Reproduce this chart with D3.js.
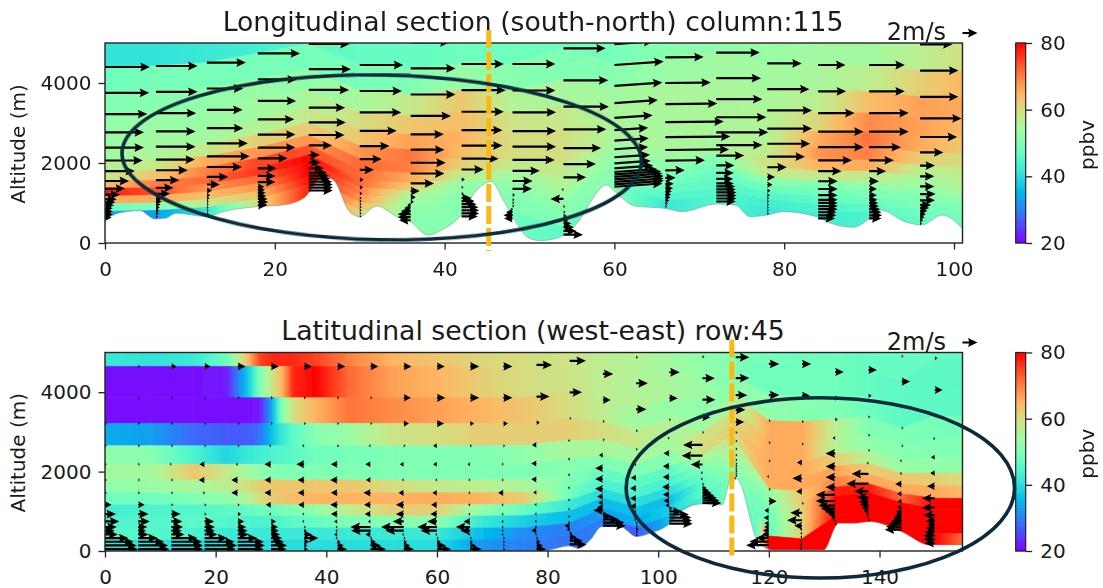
<!DOCTYPE html>
<html><head><meta charset="utf-8">
<script src="https://cdn.jsdelivr.net/npm/d3@7/dist/d3.min.js"></script>
<style>html,body{margin:0;background:#fff}text{font-family:"DejaVu Sans";fill:#1a1a1a}</style>
</head><body><svg id="c" width="1103" height="588"></svg>
<script>
// level fractions between ground and reference height
const arrowLevels=[1.17,1,.83,.69,.57,.47,.385,.315,.25,.2,.16,.13,.11,.09,.07,.05,.03,.01];
const bandEdgesTop=[1.3,1,.83,.69,.57,.47,.385,.315,.25,.2,.15,.1,.05,0];
const bandEdgesBot=[1.3,1,.83,.69,.57,.47,.385,.315,.25,.19,.125,.06,0];

// ---- longitudinal section
const topCols=[0,6,12,18,24,30,36,42,48,54,60,66,72,78,84,90,96,102];
const topGround=[600,620,700,910,1275,625,530,625,575,160,1375,875,1000,700,575,575,450,350];
const topRef=[4400,4425,4510,4740,4975,4450,4365,4475,4475,4867,4450,4640,4760,4490,4450,4450,4310,4300];
const topTilt=[0,0,0,0,0,0,0,0,0,0,.07,.01,0,0,0,0,0];
const topTerrainX=[0,1.8,4.1,5.9,7.1,8.4,12,13.9,17.9,21,23.4,25.7,26.9,28.8,30,32,34.4,36,38,40,41.8,43.8,45.5,46.9,48.5,49.7,51.2,53.2,55.9,57.6,59,60.7,62.4,65.9,68,72,74.2,76,78,79.8,83.8,85.5,88.1,90.1,91.4,94.2,96.2,98.6,101];
const topTerrainZ=[592,758,808,600,617,742,658,783,908,950,1117,1658,1575,783,658,925,658,533,200,367,658,1325,1533,1075,492,158,60,117,575,1158,1450,1158,925,867,783,975,950,658,700,783,658,492,392,617,825,533,450,700,367];
const topField=[
[41,48,50,52,53,54,56,58,64,78,66,48,34],
[41,49,51,53,54,55,58,63,70,74,66,50,33],
[42,49,52,53,54,58,66,70,72,68,64,58,42],
[43,49,53,54,56,62,68,75,76,72,68,64,60],
[46,49,52,55,58,62,68,74,80,80,80,79,78],
[47,49,55,60,63,68,72,72,72,70,68,64,60],
[47,50,58,63,67,71,70,66,62,56,53,52,51],
[48,53,63,64,65,64,62,58,53,52,51,51,51],
[48,51,56,59,60,60,58,54,52,51,50,50,48],
[48,50,55,58,60,60,58,56,54,52,51,50,46],
[49,51,54,55,55,55,54,53,52,51,51,51,50],
[51,53,55,55,55,55,54,52,50,49,47,45,42],
[52,54,55,55,55,55,54,50,48,47,46,45,45],
[53,54,55,56,56,57,59,58,52,48,45,43,42],
[54,55,57,61,66,68,65,58,50,48,46,44,43],
[54,57,64,69,71,70,66,58,53,50,48,46,44],
[57,62,67,67,66,62,57,54,52,50,49,48,47],
[60,65,66,64,62,60,58,57,55,52,50,49,48]];
const topU=[
[6,6.9,6.8,6.5,6,6,5.8,4.6,3.7,3.1,2.3,1.8,1.6,1.4,1.2,1.2,1.2,1],
[6,6.4,6.4,6.2,6.1,6.1,6,4.9,3.6,2.7,2.2,1,.9,.7,.6,.5,.4,.3],
[6,6,5.6,5.5,5.6,6.3,6.6,5.4,3.3,2,.8,.5,.4,.3,.3,.2,.2,.1],
[6,6.5,6,5.9,5.6,5.8,5.8,4.6,2.9,2.7,2.7,1,1.1,1.2,1.3,1.5,1.6,1.5],
[6,6.3,6.5,6.2,5.6,5.7,5.5,3.6,1.7,1.8,2.3,2.8,3.1,3.3,3.6,3.7,3.7,3.7],
[6,6.7,6.5,6.4,5.7,4.6,3.4,2.2,.6,.5,.4,.3,.3,.3,.3,.3,.3,.2],
[6,6.9,6.9,6.2,5.1,5.2,5.4,5.2,3.6,1.4,.8,.5,-.5,-1,-1.5,-2,-2,-1.8],
[6,6.5,6.8,6.5,6.3,6.3,5.7,3.4,.5,.3,.3,1.5,2,2.3,2.6,2.7,2.7,2.5],
[6,6.6,6.6,6.7,6.7,6.7,6.5,4.2,3.1,3,.4,.3,.3,.2,-.3,-1,-1.4,-1.3],
[6,6.5,6.9,7,6.6,5.8,5,3.5,-.3,-2,.3,.3,.5,.8,1.2,1.6,2,3],
[6,7.6,7.4,6.7,5.9,5.2,5.3,5.2,5.5,5.6,6,6.6,7.2,7.4,7.6,7.6,7.6,7.4],
[6,5.9,7,8,9,10,9.8,6.1,3,1.6,1.3,1.2,1,.9,.8,.6,.4,.3],
[6,6.7,6.9,7.1,7.7,8,7.1,4.3,2.8,2.7,2.6,2.7,2.9,3,3.1,3.1,3.1,3],
[6,5.3,6.5,6.9,6.9,6.6,5.8,3,1.2,.8,.5,.4,.3,.3,.2,.2,.2,.1],
[5,4.2,4.3,5.6,7,7,5.2,3.6,3,3,3,3,3,3,3,2.8,2.8,2.6],
[5,5.5,5.5,6.1,6.1,4.9,3.8,2.6,1.5,1.2,1.2,1.3,1.4,1.5,1.7,1.9,2,1.9],
[5,5.9,5.9,6.4,5.7,3.6,2.3,2.2,2.2,2.4,2.3,1.7,1.4,1.1,.9,.7,.5,.3]];

// ---- latitudinal section
const botCols=[0,6,12,18,24,30,36,42,48,54,60,66,72,78,84,90,96,102,108,114,120,126,132,138,144,150,156];
const botGround=[0,0,0,0,0,0,0,0,0,0,0,0,0,0,120,600,360,650,1180,1800,100,25,640,740,500,150,150];
const botRef=[4650,4650,4650,4650,4650,4650,4650,4650,4650,4650,4650,4650,4650,4687,4790,4460,4225,4503,4352,4880,4712,4712,4510,4560,4267,4856,4850];
const botTerrainX=[0,79,80.4,83.7,85.7,87.7,89.8,93.1,96.1,98.5,101.8,104.5,107.8,111.5,113.3,114.5,117.9,120.5,129.9,132.6,135.3,138.3,144,149,155];
const botTerrainZ=[0,0,25,126,67,277,613,613,361,445,655,1033,1185,1160,1873,1789,277,25,25,697,697,739,487,151,151];
const botFieldX=[0,8,16,22,26,28,30,32,34,38,44,52,60,68,76,84,90,96,102,108,114,118,120,126,132,138,144,150,156];
const botField=[
[42,41,42,48,65,75,77,77,77,75,70,65,63,61,60,59,57,56,54,52,50,49,49,48,48,47,47,47,47],
[21,21,21,22,38,50,58,65,77,80,72,67,65,62,60,59,57,56,55,53,50,48,48,48,48,47,46,46,46],
[21,21,21,21,21,22,33,50,60,65,71,69,67,65,63,60,57,54,53,52,52,52,52,51,50,48,46,46,46],
[34,33,28,27,27,29,36,42,46,51,53,59,60,62,62,62,60,58,56,54,55,62,66,66,57,50,50,49,49],
[52,51,44,39,42,43,44,45,46,48,49,50,50,50,52,55,55,54,54,60,60,64,66,66,56,52,51,50,50],
[54,54,63,58,54,52,51,50,50,50,50,50,50,50,50,51,50,50,51,60,62,65,66,66,62,56,53,52,52],
[52,53,55,57,60,62,63,63,63,63,63,60,58,57,55,50,47,46,46,54,60,64,66,66,67,62,63,62,60],
[48,48,50,52,56,60,62,63,64,65,65,65,66,65,62,48,44,44,44,50,58,54,52,63,70,66,66,66,64],
[43,44,45,46,47,48,48,49,50,52,57,62,62,52,47,42,40,40,40,48,56,51,50,62,78,78,72,80,80],
[44,45,46,45,44,44,44,45,46,47,50,51,52,42,38,36,36,36,36,46,54,49,48,61,80,80,80,80,80],
[45,45,44,42,42,42,42,42,42,42,42,42,42,36,31,30,33,34,38,46,52,48,47,62,80,80,80,80,80],
[41,41,40,40,40,40,40,40,40,40,40,40,40,32,30,29,30,27,36,44,50,47,80,80,80,80,80,80,70]];
const botU=[
[0,0,.1,.1,.1,.1,.1,.2,1,1.7,2.2,1.8,1.5,2,3.6,4.4,4.9,5.1],
[0,.1,.1,.1,.1,.1,.1,.2,1,1.6,1.8,1.4,1.2,1.6,3,4,4.6,4.8],
[0,.8,.1,.1,.1,-.2,.1,.1,.1,1.4,1.7,1.8,1.6,2,4,4.7,4.9,4.9],
[0,.9,.1,.1,.1,-.8,-.9,-.3,.1,.3,1.5,1.6,1.6,2,3.5,4.6,5,4.8],
[0,1.2,.1,.1,.1,-.3,-1,-1,.1,.5,1,1.3,1.5,1.7,3,4,4.2,4],
[0,1.2,.3,.1,-.2,-1,-1,-1,-.8,-.3,.8,1.1,1.2,1.4,1.7,2,2.5,2.4],
[0,1.2,.1,.1,-.3,-1.2,-1,-1,-.9,-.2,-.1,.1,.4,1.2,2.2,.8,.5,.6],
[0,1.2,.3,.1,.1,-1,-1.1,-1,-1.1,-1,-.5,-.2,-.1,-.5,-.3,.5,1,1.5],
[0,1.2,.1,.1,-.2,-.8,-.7,-1.1,-1,-.9,-.4,-3.1,-3,-.8,.3,.8,1.6,2.4],
[0,1.2,1.1,.8,.1,-.6,-.1,-.8,-1.2,-1.2,-1.7,-3.5,-2.8,-.1,.2,.5,1,1.6],
[0,1.2,1.3,1.1,-.6,-.6,-.1,-.7,-.9,-1,-1.5,-3,-2.5,-.1,.1,.6,1.4,2.2],
[0,1.4,1.4,.6,.1,-.4,-.1,-.1,-.3,-.2,-1,-2.2,-1.5,-.1,.1,.4,.9,1.8],
[0,1.4,1.4,.7,.1,-.1,-.1,-.8,-.2,-.2,-.3,-.2,-.2,-.1,.1,.1,.1,.2],
[0,2.4,2,.5,-.7,-.8,-.8,-.5,-.3,-.2,-.3,-.3,-.8,-.2,.2,.6,1,1.5],
[0,2.5,1.9,.1,-.1,-.3,-.3,-.3,-.3,-.2,-.2,-.2,-.8,-.5,.4,1,2,2.6],
[0,1.6,1.2,.2,.1,-.6,-1.2,-1.2,-1.2,-.9,-.7,-.9,-1.5,.5,1.5,2.5,3.3,3.5],
[.3,1.8,1.6,.1,.1,-.3,-.8,-.9,-.9,-.9,-.5,-.4,-.2,.2,.3,.4,.3,.2],
[0,1.6,1.3,.1,-.1,-.9,-1,-1,-1.1,-1,-.9,-.6,.5,2,3,3.4,3.5,3.6],
[.3,1.9,2,1.2,.1,-3,-3.2,-1.8,-.3,-.2,.2,.6,1,1.4,1.8,2.2,2.6,2.9],
[0,2.1,2.1,1.8,1.5,1.3,.1,.1,.1,.1,.1,.1,.1,.1,.1,.1,.1,-.2],
[0,1.6,1.6,.1,.1,.1,-.1,.1,1.2,-.7,-.8,-.7,-.7,-.9,-1,-2,-3,-3.5],
[0,1.4,1.2,.1,.1,-.8,-1.5,-.9,.1,-1.8,-2.3,-1.2,-.1,-.1,-.1,-.3,-.4,-.4],
[0,1.3,.6,.4,-.4,-1.5,-1.5,-1.5,-1.5,-3,-3,-2.6,-2.2,-1.6,-1,-.6,-.2,.1],
[0,1.3,.5,.1,.1,.1,-.2,-2.6,-3.4,-2.2,-1.8,-1.5,-1.3,-1,-.7,-.4,-.2,.1],
[.2,1.3,.1,.1,.1,-.1,-.3,-1,-.7,-.6,-.7,-.9,-1,-1.3,-1.6,-2,-2.4,-2.6],
[0,.4,1.2,.1,-.1,-.6,-.7,-1.2,-2,-2,-1.8,-1.4,-1.2,-1.4,-1.6,-1.8,-1.8,-1.6]];

// ---- text and annotation
const titleTop="Longitudinal section (south-north) column:115";
const titleBot="Latitudinal section (west-east) row:45";
const colorTicks=[20,40,60,80];
const altTicks=[0,2000,4000];
const topXTicks=[0,20,40,60,80,100];
const botXTicks=[0,20,40,60,80,100,120,140];
const keySpeed=2, keyLabel="2m/s";
const topEllipse={cx:32.6,cz:2140,rx:30.6,rz:2060,tilt:1};
const botEllipse={cx:129.3,cz:1590,rx:35.1,rz:2270,tilt:0};
const topMark=45.2, botMark=113.3;

const layout={top:{l:105,r:962.5,t:43,b:243,xMax:101},bot:{l:105,r:962.5,t:352.5,b:551,xMax:155}};
const pxPerMs=6.5, tickFont=20;
const svg=d3.select("#c"), defs=svg.append("defs");
const blur=(id,s)=>defs.append("filter").attr("id",id).attr("filterUnits","userSpaceOnUse")
  .attr("x",0).attr("y",0).attr("width",1103).attr("height",588)
  .append("feGaussianBlur").attr("stdDeviation",s);
blur("soft",.7);blur("soft2",.3);

const toUnit=d3.scaleLinear().domain([20,80]).range([0,1]).clamp(true);
function rainbow(v){const x=toUnit(v);
  return d3.rgb(255*Math.abs(2*x-.5),255*Math.sin(Math.PI*x),255*Math.cos(Math.PI*x/2)).formatRgb();}

let gid=0;
function arrowPath(L,tilt){
  const sgn=L<0?-1:1,a=Math.max(Math.abs(L),1.8),hl=9.5,k=a<hl?a/hl:1,
    h=1.1*k,H=4.4*Math.min(1,Math.pow(a/hl,.6)),hh=hl*k,ax=hh*.88;
  const pts=[[0,-h],[a-ax,-h],[a-hh,-H],[a,0],[a-hh,H],[a-ax,h],[0,h]];
  const c=Math.cos(tilt),s=Math.sin(tilt);
  return "M"+pts.map(([x,y])=>[sgn*(x*c+y*s),(-x*s+y*c)].map(d=>d.toFixed(2)).join(",")).join("L")+"Z";
}

function panel(cfg){
  const p=cfg.box;
  const x=d3.scaleLinear().domain([0,p.xMax]).range([p.l,p.r]);
  const y=d3.scaleLinear().domain([0,5000]).range([p.b,p.t]);
  const id="clip"+cfg.id;
  defs.append("clipPath").attr("id",id).append("rect").attr("x",p.l).attr("y",p.t).attr("width",p.r-p.l).attr("height",p.b-p.t);
  const clip=svg.append("g").attr("clip-path",`url(#${id})`);
  const fg=clip.append("g").attr("filter","url(#soft)");
  const tAt=d3.scaleLinear().domain(cfg.cols).range(cfg.ground);
  const sAt=d3.scaleLinear().domain(cfg.cols).range(cfg.ref);
  const Z=(xv,r)=>{const t=tAt(xv),s=sAt(xv);return r===0?0:t+(s-t)*r;};
  // field quads
  cfg.edges.slice(0,-1).forEach((r0,k)=>{const r1=cfg.edges[k+1];
    d3.pairs(cfg.fx.map((v,i)=>[v,i])).forEach(([[a,i],[b,j]])=>{
      const va=cfg.val(k,i),vb=cfg.val(k,j),gd="g"+(gid++);
      const g=defs.append("linearGradient").attr("id",gd).attr("gradientUnits","userSpaceOnUse")
        .attr("x1",x(a)).attr("x2",x(b)).attr("y1",0).attr("y2",0);
      d3.range(0,1.01,.25).forEach(o=>g.append("stop").attr("offset",o).attr("stop-color",rainbow(va+(vb-va)*o)));
      fg.append("polygon").attr("points",[[a,r0],[b,r0],[b,r1],[a,r1]].map(([q,r])=>x(q)+","+y(Z(q,r))).join(" "))
        .attr("fill",`url(#${gd})`).attr("stroke",`url(#${gd})`).attr("stroke-width",.7);
    });
  });
  // terrain mask
  const tr=cfg.tx.map((v,i)=>[v,cfg.tz[i]]);
  clip.append("path").datum(tr).attr("fill","#fff").attr("stroke","#7f9f95").attr("stroke-width",.6)
    .attr("d",d3.area().x(d=>x(d[0])).y0(y(-200)).y1(d=>y(d[1])).curve(d3.curveMonotoneX));
  // arrows
  const ag=clip.append("g").attr("filter","url(#soft2)");
  cfg.cols.slice(0,cfg.u.length).forEach((c,i)=>{
    cfg.u[i].forEach((u,k)=>{
      if(u===0)return;
      const z=Z(c,arrowLevels[k]);
      if(z>5040)return;
      ag.append("path").attr("transform",`translate(${x(c)},${y(z)})`)
        .attr("d",arrowPath(u*pxPerMs,cfg.tilt?cfg.tilt[i]:0)).attr("fill","#000");
    });
  });
  // frame and axes
  svg.append("rect").attr("x",p.l).attr("y",p.t).attr("width",p.r-p.l).attr("height",p.b-p.t)
    .attr("fill","none").attr("stroke","#222").attr("stroke-width",1.4);
  const ax=svg.append("g").attr("transform",`translate(0,${p.b})`)
    .call(d3.axisBottom(x).tickValues(cfg.xt).tickFormat(d3.format("d")).tickSize(6.5).tickPadding(12));
  const ay=svg.append("g").attr("transform",`translate(${p.l},0)`)
    .call(d3.axisLeft(y).tickValues(altTicks).tickFormat(d3.format("d")).tickSize(6.5).tickPadding(7));
  [ax,ay].forEach(g=>{g.select(".domain").remove();g.selectAll("line").attr("stroke","#222").attr("stroke-width",1.3);
    g.selectAll("text").attr("font-size",tickFont).attr("font-family","DejaVu Sans").attr("fill","#1a1a1a");});
  svg.append("text").attr("transform",`translate(24.5,${(p.t+p.b)/2+1}) rotate(-90)`).attr("text-anchor","middle")
    .attr("font-size",tickFont).text("Altitude (m)");
  svg.append("text").attr("x",cfg.titleX).attr("y",p.t-12.5).attr("text-anchor","middle").attr("font-size",26.7).text(cfg.title);
  // key
  const kx=x(p.xMax);
  svg.append("text").attr("x",946).attr("y",p.t-3).attr("text-anchor","end").attr("font-size",24).text(keyLabel);
  svg.append("path").attr("transform",`translate(${kx},${p.t-10})`).attr("d",arrowPath(keySpeed*pxPerMs+2,0)).attr("fill","#000");
  // colour bar
  const cy=d3.scaleLinear().domain([20,80]).range([p.b,p.t]);
  const cbx=1015.7,cbw=10;
  svg.append("g").selectAll("rect").data(d3.range(20,80,1)).join("rect").attr("x",cbx).attr("width",cbw)
    .attr("y",d=>cy(d+1)-.3).attr("height",d=>cy(d)-cy(d+1)+.6).attr("fill",d=>rainbow(d+.5));
  svg.append("rect").attr("x",cbx).attr("y",p.t).attr("width",cbw).attr("height",p.b-p.t).attr("fill","none").attr("stroke","#222").attr("stroke-width",1.2);
  const cax=svg.append("g").attr("transform",`translate(${cbx+cbw},0)`)
    .call(d3.axisRight(cy).tickValues(colorTicks).tickSize(6.5).tickPadding(8));
  cax.select(".domain").remove();cax.selectAll("line").attr("stroke","#222").attr("stroke-width",1.3);
  cax.selectAll("text").attr("font-size",tickFont).attr("font-family","DejaVu Sans").attr("fill","#1a1a1a");
  svg.append("text").attr("transform",`translate(1087,${cy(50)+2}) rotate(-90)`).attr("text-anchor","middle")
    .attr("dy","0.35em").attr("font-size",tickFont).text("ppbv");
  // annotations
  svg.append("line").attr("x1",x(cfg.mark)).attr("x2",x(cfg.mark)).attr("y1",p.t-13).attr("y2",p.b+8)
    .attr("stroke","#fdb913").attr("stroke-width",5).attr("stroke-dasharray","18 4");
  const e=cfg.ell;
  svg.append("ellipse").attr("cx",x(e.cx)).attr("cy",y(e.cz))
    .attr("rx",x(e.rx)-x(0)).attr("ry",y(0)-y(e.rz))
    .attr("transform",`rotate(${e.tilt} ${x(e.cx)} ${y(e.cz)})`)
    .attr("fill","none").attr("stroke","#0c2a3a").attr("stroke-width",3.6);
}
panel({id:"a",box:layout.top,cols:topCols,ground:topGround,ref:topRef,edges:bandEdgesTop,fx:topCols,
  val:(k,i)=>topField[i][k],tx:topTerrainX,tz:topTerrainZ,u:topU,tilt:topTilt,xt:topXTicks,
  title:titleTop,titleX:533,mark:topMark,ell:topEllipse});
panel({id:"b",box:layout.bot,cols:botCols,ground:botGround,ref:botRef,edges:bandEdgesBot,fx:botFieldX,
  val:(k,i)=>botField[k][i],tx:botTerrainX,tz:botTerrainZ,u:botU,xt:botXTicks,
  title:titleBot,titleX:533,mark:botMark,ell:botEllipse});
</script></body></html>
